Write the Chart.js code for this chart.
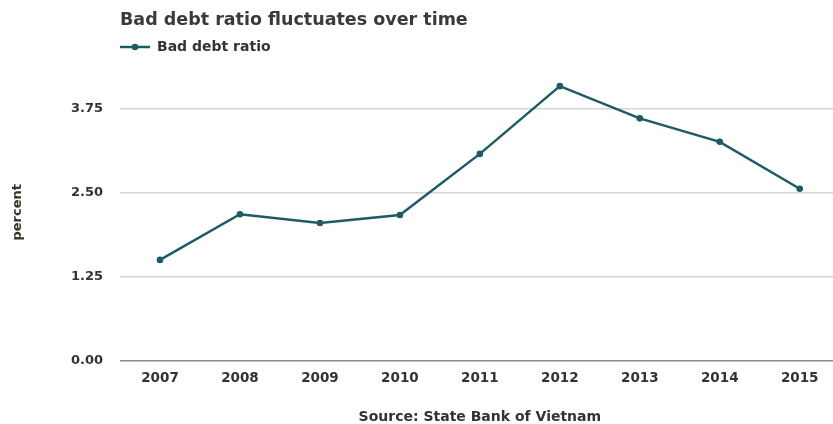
<!DOCTYPE html>
<html>
<head>
<meta charset="utf-8">
<script src="https://cdn.jsdelivr.net/npm/chart.js@4.4.1/dist/chart.umd.min.js"></script>
<style>
  html, body { margin: 0; padding: 0; background: #ffffff; overflow: hidden; }
  #wrap { position: relative; width: 843px; height: 424px; }
</style>
</head>
<body>
<div id="wrap"><canvas id="chart"></canvas></div>
<script>
// Bad debt ratio, percent of outstanding loans
const years = ['2007', '2008', '2009', '2010', '2011', '2012', '2013', '2014', '2015'];
const badDebtRatio = [1.50, 2.18, 2.05, 2.17, 3.08, 4.09, 3.61, 3.26, 2.56];
const yTickValues = [0, 1.25, 2.5, 3.75];

const LINE_COLOR = '#1e5b66';
const TEXT_COLOR = '#333333';
const FONT = '"DejaVu Sans", sans-serif';

// Legend swatch: a short line with a dot in the middle
function makeSwatch() {
  const c = document.createElement('canvas');
  c.width = 30; c.height = 8;
  const g = c.getContext('2d');
  g.strokeStyle = LINE_COLOR;
  g.lineWidth = 2.5;
  g.beginPath(); g.moveTo(0, 4); g.lineTo(30, 4); g.stroke();
  g.fillStyle = LINE_COLOR;
  g.beginPath(); g.arc(15, 4, 3.2, 0, Math.PI * 2); g.fill();
  return c;
}
const swatch = makeSwatch();

new Chart(document.getElementById('chart'), {
  type: 'line',
  data: {
    labels: years,
    datasets: [{
      label: 'Bad debt ratio',
      data: badDebtRatio,
      borderColor: LINE_COLOR,
      backgroundColor: LINE_COLOR,
      borderWidth: 2.5,
      pointRadius: 3.3,
      pointHoverRadius: 3.3,
      pointBackgroundColor: LINE_COLOR,
      pointBorderWidth: 0,
      tension: 0,
      fill: false
    }]
  },
  options: {
    responsive: true,
    maintainAspectRatio: false,
    animation: false,
    layout: { padding: 0 },
    plugins: {
      tooltip: { enabled: false },
      title: {
        display: true,
        text: 'Bad debt ratio fluctuates over time',
        align: 'start',
        fullSize: false,
        color: '#3a3a3a',
        font: { family: FONT, size: 17.5, weight: 'bold' },
        padding: { top: 10, bottom: 9 }
      },
      legend: {
        display: true,
        align: 'start',
        fullSize: false,
        labels: {
          usePointStyle: true,
          pointStyleWidth: 30,
          boxHeight: 8,
          padding: 0,
          color: TEXT_COLOR,
          font: { family: FONT, size: 14, weight: 'bold' },
          generateLabels: (chart) => [{
            text: chart.data.datasets[0].label,
            pointStyle: swatch,
            fillStyle: LINE_COLOR,
            strokeStyle: LINE_COLOR,
            lineWidth: 0,
            hidden: false,
            datasetIndex: 0,
            fontColor: TEXT_COLOR
          }]
        }
      }
    },
    scales: {
      x: {
        type: 'category',
        offset: true,
        grid: { display: false, drawTicks: false },
        border: { display: false },
        ticks: {
          color: TEXT_COLOR,
          padding: 10,
          maxRotation: 0,
          font: { family: FONT, size: 13.5, weight: 'bold' }
        },
        title: {
          display: true,
          text: 'Source: State Bank of Vietnam',
          color: TEXT_COLOR,
          font: { family: FONT, size: 14, weight: 'bold', lineHeight: 1 },
          padding: { top: 0, bottom: 0 }
        },
        afterFit: (scale) => { scale.height = 63.5; }
      },
      y: {
        min: 0,
        max: 4.42,
        grid: {
          drawTicks: false,
          lineWidth: 1.5,
          color: (ctx) => (ctx.tick && ctx.tick.value === 0) ? '#8a8a8a' : '#d4d4d4'
        },
        border: { display: false },
        afterBuildTicks: (scale) => {
          scale.ticks = yTickValues.map(v => ({ value: v }));
        },
        ticks: {
          color: TEXT_COLOR,
          padding: 17,
          font: { family: FONT, size: 13, weight: 'bold' },
          callback: (v) => Number(v).toFixed(2)
        },
        title: {
          display: true,
          text: 'percent',
          color: '#3a3226',
          font: { family: FONT, size: 13, weight: 'bold' },
          padding: { top: 10, bottom: 0 }
        },
        afterFit: (scale) => { scale.width = 120; }
      }
    }
  }
});
</script>
</body>
</html>
